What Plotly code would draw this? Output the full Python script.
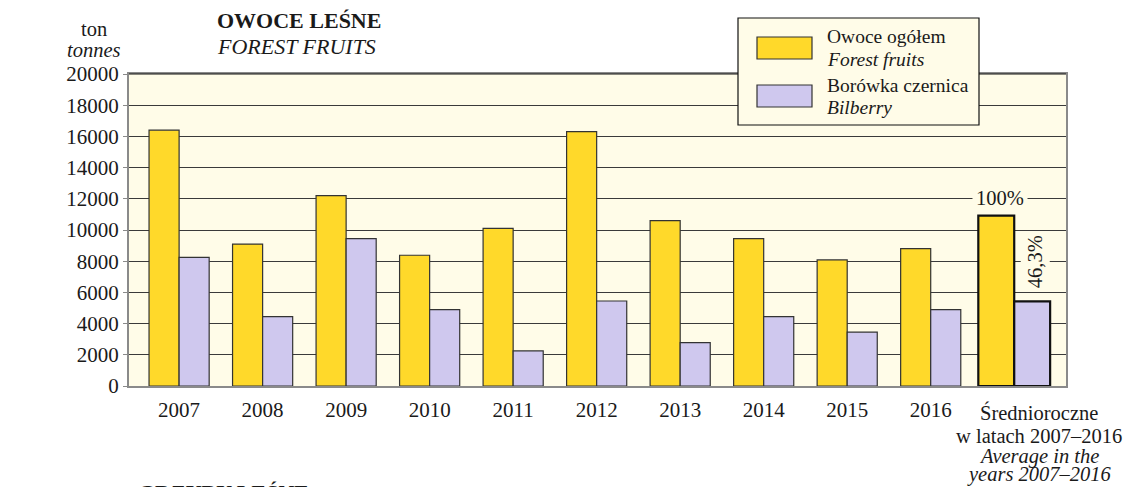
import plotly.graph_objects as go

categories = ["2007", "2008", "2009", "2010", "2011", "2012", "2013", "2014", "2015", "2016",
              "Średnioroczne w latach 2007–2016 / Average in the years 2007–2016"]
tick_labels = ["2007", "2008", "2009", "2010", "2011", "2012", "2013", "2014", "2015", "2016", ""]
avg_label_lines = ["Średnioroczne", "w latach 2007–2016", "<i>Average in the</i>", "<i>years 2007–2016</i>"]
forest_fruits = [16400, 9100, 12200, 8380, 10100, 16300, 10600, 9450, 8080, 8800, 10920]
bilberry = [8250, 4450, 9450, 4900, 2250, 5450, 2780, 4450, 3450, 4900, 5430]
y_ticks = [0, 2000, 4000, 6000, 8000, 10000, 12000, 14000, 16000, 18000, 20000]

YELLOW = "#FFD92A"
PURPLE = "#CFC8EE"
BG = "#FFFCE8"
FONT = "Liberation Serif"
TXT = "#1a1a1a"

# the page body has an 8px margin; plot area is placed at x 129..1066, y 74..386 on screen
OFF = 8
L, T, R, B = 129 - OFF, 74 - OFF, 1131 + OFF - 1066, 487 + OFF - 386

n = len(categories)
w_year, w_avg = 0.36, 0.43
widths = [w_year] * (n - 1) + [w_avg]
lw = [1.2] * (n - 1) + [2.2]
lc = ["#333333"] * (n - 1) + ["#111111"]

fig = go.Figure()
fig.add_trace(go.Bar(
    x=categories, y=forest_fruits, name="Owoce ogółem / Forest fruits",
    width=widths, offset=[-w for w in widths],
    marker=dict(color=YELLOW, line=dict(color=lc, width=lw)),
    showlegend=False,
))
fig.add_trace(go.Bar(
    x=categories, y=bilberry, name="Borówka czernica / Bilberry",
    width=widths, offset=[0] * n,
    marker=dict(color=PURPLE, line=dict(color=lc, width=lw)),
    showlegend=False,
))

fig.update_layout(
    width=1131, height=487,
    margin=dict(l=L, r=R, t=T, b=B),
    paper_bgcolor="white", plot_bgcolor=BG,
    barmode="overlay",
    font=dict(family=FONT, size=20, color=TXT),
    xaxis=dict(
        type="category", range=[-0.6, 10.62], tickangle=0, automargin=False,
        tickvals=categories, ticktext=tick_labels, ticklabelstandoff=4,
        showgrid=False, showline=True, linecolor="#8a8a8a", linewidth=2, mirror=True,
        ticks="", tickfont=dict(family=FONT, size=21, color=TXT),
    ),
    yaxis=dict(
        range=[0, 20000], tickvals=y_ticks, ticktext=[str(v) for v in y_ticks],
        automargin=False,
        showgrid=True, gridcolor="#3a3a3a", gridwidth=1,
        showline=True, linecolor="#8a8a8a", linewidth=2, mirror=True,
        ticks="outside", ticklen=4, tickcolor="#8a8a8a",
        tickfont=dict(family=FONT, size=21, color=TXT),
        zeroline=False,
    ),
)

# top border black
fig.add_shape(type="line", xref="paper", yref="paper", x0=0, x1=1, y0=1, y1=1,
              line=dict(color="#111111", width=1.2))

def px_x(x):
    return (x - 129) / 937

def px_y(y):
    return (386 - y) / 312

fig.add_annotation(text="<b>OWOCE LEŚNE</b>", xref="paper", yref="paper",
                   x=px_x(215), y=px_y(21), xanchor="left", yanchor="middle", showarrow=False,
                   font=dict(family=FONT, size=22, color=TXT))
fig.add_annotation(text="<i>FOREST FRUITS</i>", xref="paper", yref="paper",
                   x=px_x(215), y=px_y(46), xanchor="left", yanchor="middle", showarrow=False,
                   font=dict(family=FONT, size=22, color=TXT))
fig.add_annotation(text="ton", xref="paper", yref="paper",
                   x=px_x(94), y=px_y(29), xanchor="center", yanchor="middle",
                   showarrow=False, font=dict(family=FONT, size=20.5, color=TXT))
fig.add_annotation(text="<i>tonnes</i>", xref="paper", yref="paper",
                   x=px_x(94), y=px_y(50), xanchor="center", yanchor="middle",
                   showarrow=False, font=dict(family=FONT, size=20.5, color=TXT))

# average category label (tight line spacing, shifted right as in the source)
for line, yc in zip(avg_label_lines, [412, 436, 456, 475]):
    fig.add_annotation(text=line, x=categories[-1], xref="x", yref="paper", y=px_y(yc),
                       xanchor="center", yanchor="middle", xshift=25, showarrow=False,
                       font=dict(family=FONT, size=20.5, color=TXT))

# bottom cut-off title of next chart
fig.add_annotation(text="<b>GRZYBY LEŚNE</b>", xref="paper", yref="paper",
                   x=px_x(136), y=px_y(478), xanchor="left", yanchor="top",
                   showarrow=False, font=dict(family=FONT, size=22, color=TXT))

# 100% and 46,3% labels
fig.add_annotation(text="100%", x=categories[-1], y=12000, xshift=-14, yshift=1,
                   showarrow=False, bgcolor=BG, borderpad=3,
                   font=dict(family=FONT, size=20.5, color=TXT))
fig.add_annotation(text="46,3%", x=categories[-1], y=7950, xshift=21,
                   textangle=-90, showarrow=False, bgcolor=BG, borderpad=3,
                   font=dict(family=FONT, size=20.5, color=TXT))

# custom legend box
fig.add_shape(type="rect", xref="paper", yref="paper",
              x0=px_x(738), x1=px_x(979), y0=px_y(125), y1=px_y(18),
              fillcolor=BG, line=dict(color="#111111", width=1.2), layer="above")
fig.add_shape(type="rect", xref="paper", yref="paper",
              x0=px_x(757), x1=px_x(812), y0=px_y(59), y1=px_y(37),
              fillcolor=YELLOW, line=dict(color="#333333", width=1.2), layer="above")
fig.add_shape(type="rect", xref="paper", yref="paper",
              x0=px_x(757), x1=px_x(812), y0=px_y(107), y1=px_y(85),
              fillcolor=PURPLE, line=dict(color="#333333", width=1.2), layer="above")
legend_texts = [("Owoce ogółem", 37), ("<i>Forest fruits</i>", 60),
                ("Borówka czernica", 85), ("<i>Bilberry</i>", 108)]
for t, yy in legend_texts:
    fig.add_annotation(text=t, xref="paper", yref="paper", x=px_x(825), y=px_y(yy),
                       xanchor="left", yanchor="middle", showarrow=False,
                       font=dict(family=FONT, size=19.5, color=TXT))

fig.write_html("out.html")
